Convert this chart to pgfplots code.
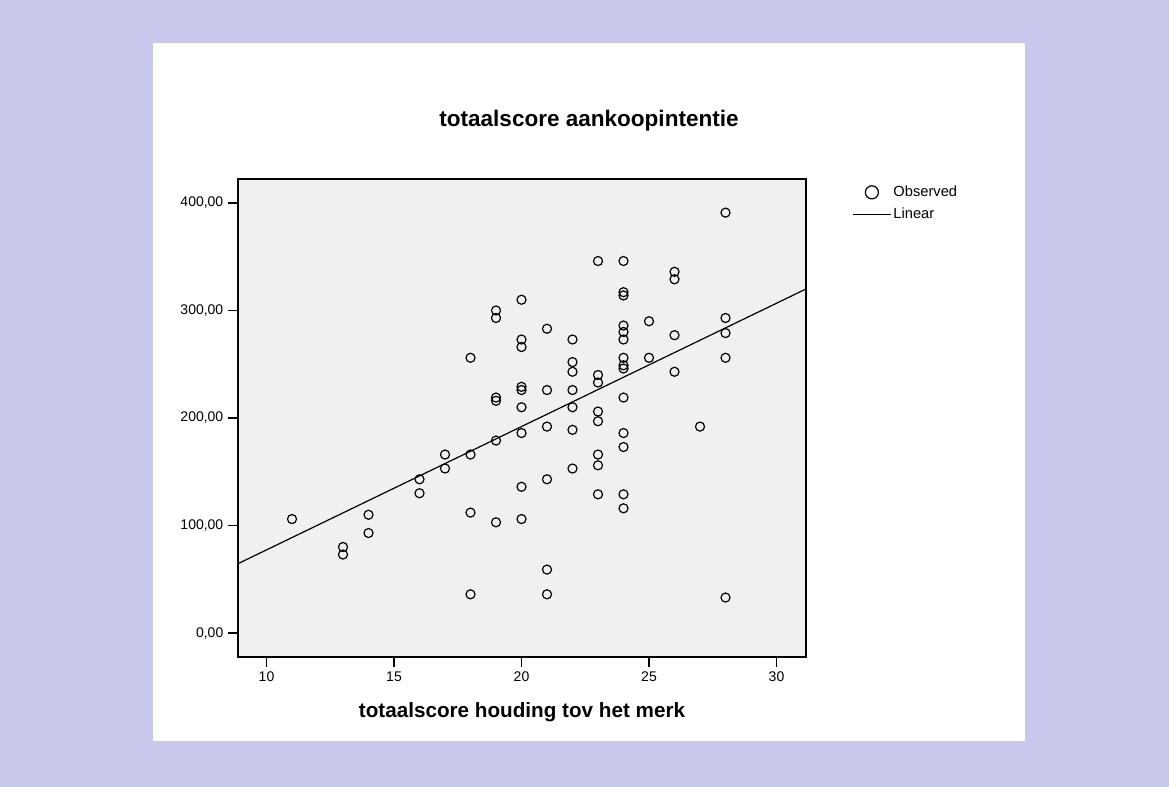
\documentclass[border=0pt]{standalone}
\usepackage{fontspec}
\setmainfont{Liberation Sans}
\usepackage{pgfplots}
\pgfplotsset{compat=1.18}
\definecolor{lav}{RGB}{200,200,236}
\definecolor{plotbg}{RGB}{240,240,240}
\pgfplotsset{
  obsleg/.style={legend image code/.code={\draw[##1] plot coordinates {(14.25pt,0pt)};}},
  linleg/.style={legend image code/.code={\draw[##1] (0pt,0pt) -- (28.5pt,0pt);}},
}
\begin{document}
\begin{tikzpicture}
\fill[lav] (0pt,0pt) rectangle (876.75pt,590.25pt);
\fill[white] (114.75pt,34.5pt) rectangle (768.75pt,558pt);
\begin{axis}[
  at={(178.5pt,97.5pt)}, anchor=south west,
  scale only axis, width=426pt, height=358.5pt,
  xmin=8.882, xmax=31.157, ymin=-22.3, ymax=422.3,
  axis background/.style={fill=plotbg},
  axis line style={line width=0.8pt, black},
  xtick={10,15,20,25,30}, ytick={0,100,200,300,400},
  xtick pos=bottom, ytick pos=left,
  tick align=outside, major tick length=7.5pt,
  every tick/.style={line width=0.9pt, black},
  tick label style={font=\fontsize{10.5pt}{12pt}\selectfont},
  /pgf/number format/assume math mode=true,
  yticklabel style={/pgf/number format/.cd, fixed, fixed zerofill, precision=2, use comma},
  scaled y ticks=false,
  xlabel={totaalscore houding tov het merk},
  xlabel style={at={(axis description cs:0.5,0)}, anchor=center, yshift=-41.25pt, font=\fontsize{15.5pt}{18pt}\selectfont\bfseries},
  legend style={at={(1.081,0.990)}, anchor=north west, draw=none, fill=none,
    font=\fontsize{11pt}{13pt}\selectfont, row sep=4pt, inner sep=0pt,
    nodes={inner sep=1.5pt}},
  legend cell align=left,
]
\addlegendimage{obsleg, only marks, mark=o, mark size=4.9pt, line width=0.9pt, black}
\addlegendentry{Observed}
\addlegendimage{linleg, line width=0.9pt, black}
\addlegendentry{Linear}
\addplot[only marks, mark=o, mark size=3.4pt, line width=0.9pt, black, forget plot] coordinates {
(11,106) (13,80) (13,73) (14,110) (14,93) (16,143) (16,130) (17,166) (17,153)
(18,256) (18,166) (18,112) (18,36)
(19,300) (19,293) (19,219) (19,216) (19,179) (19,103)
(20,310) (20,273) (20,266) (20,229) (20,226) (20,210) (20,186) (20,136) (20,106)
(21,283) (21,226) (21,192) (21,143) (21,59) (21,36)
(22,273) (22,252) (22,243) (22,226) (22,210) (22,189) (22,153)
(23,346) (23,240) (23,233) (23,206) (23,197) (23,166) (23,156) (23,129)
(24,346) (24,317) (24,314) (24,286) (24,280) (24,273) (24,256) (24,249) (24,246) (24,219) (24,186) (24,173) (24,129) (24,116)
(25,290) (25,256)
(26,336) (26,329) (26,277) (26,243)
(27,192)
(28,391) (28,293) (28,279) (28,256) (28,33)
};
\addplot[line width=0.9pt, black, forget plot] coordinates {(8.882,64.5) (31.157,320)};
\end{axis}
\node[font=\fontsize{16.9pt}{20pt}\selectfont\bfseries] at (441.75pt,499.9pt) {totaalscore aankoopintentie};
\end{tikzpicture}
\end{document}
